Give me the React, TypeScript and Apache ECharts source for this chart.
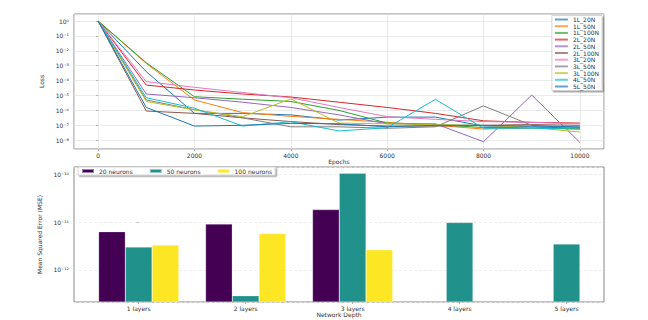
import React, { useEffect, useRef } from "react";
import * as echarts from "echarts";

// ---------- Top chart data (loss vs epochs) ----------
const epochs = [0, 1000, 2000, 3000, 4000, 5000, 6000, 7000, 8000, 9000, 10000];
const lossNames = ["1L_20N", "1L_50N", "1L_100N", "2L_20N", "2L_50N", "2L_100N", "3L_20N", "3L_50N", "3L_100N", "4L_50N", "5L_50N"];
const loss_1L_20N = [1, 3.98e-4, 6.31e-7, 6.31e-7, 5.01e-7, 2.24e-7, 3.55e-7, 3.55e-7, 8.91e-8, 7.94e-8, 6.31e-8];
const loss_1L_50N = [1, 1.41e-3, 5.01e-6, 7.08e-7, 3.98e-7, 2.51e-7, 1.58e-7, 1.0e-7, 5.62e-8, 6.31e-8, 6.31e-8];
const loss_1L_100N = [1, 1.58e-3, 8.3e-6, 5.62e-6, 3.98e-6, 1.0e-6, 1.41e-7, 1.12e-7, 7.08e-8, 7.08e-8, 5.62e-8];
const loss_2L_20N = [1, 5.01e-5, 2.34e-5, 1.26e-5, 7.94e-6, 3.55e-6, 1.58e-6, 6.31e-7, 2.0e-7, 1.58e-7, 1.41e-7];
const loss_2L_50N = [1, 1.26e-5, 7.08e-6, 3.55e-6, 1.58e-6, 5.01e-7, 1.26e-7, 1.26e-7, 7.94e-9, 1.07e-5, 7.08e-9];
const loss_2L_100N = [1, 9.1e-7, 6.31e-7, 3.16e-7, 1.78e-7, 1.12e-7, 8.91e-8, 8.91e-8, 1.0e-7, 1.12e-7, 1.0e-7];
const loss_3L_20N = [1, 8.5e-5, 3.55e-5, 1.58e-5, 7.08e-6, 1.58e-6, 3.8e-7, 2.51e-7, 1.78e-7, 1.58e-7, 1.26e-7];
const loss_3L_50N = [1, 5.01e-6, 1.12e-6, 3.16e-7, 7.94e-8, 7.94e-8, 6.31e-8, 7.94e-8, 2.0e-6, 1.0e-7, 7.08e-8];
const loss_3L_100N = [1, 3.98e-6, 1.07e-6, 3.8e-7, 5.9e-6, 1.41e-7, 1.26e-7, 1.12e-7, 1.0e-7, 7.08e-8, 3.55e-8];
const loss_4L_50N = [1, 7.08e-6, 1.41e-6, 8.91e-8, 1.74e-7, 4.17e-8, 6.92e-8, 5.5e-6, 6.31e-8, 6.31e-8, 5.62e-8];
const loss_5L_50N = [1, 1.58e-6, 8.91e-8, 1.0e-7, 1.35e-7, 1.26e-7, 7.94e-8, 1.0e-7, 1.0e-7, 8.91e-8, 7.94e-8];
const lossSeries = [loss_1L_20N, loss_1L_50N, loss_1L_100N, loss_2L_20N, loss_2L_50N, loss_2L_100N, loss_3L_20N, loss_3L_50N, loss_3L_100N, loss_4L_50N, loss_5L_50N];
const lineColors = ["#1f77b4", "#ff7f0e", "#2ca02c", "#d62728", "#9467bd", "#8c564b", "#e377c2", "#7f7f7f", "#bcbd22", "#17becf", "#1f77b4"];

// ---------- Bottom chart data (MSE vs depth) ----------
const depthLabels = ["1 layers", "2 layers", "3 layers", "4 layers", "5 layers"];
const depthPositions = [0, 1, 2, 3, 4];
const barNames = ["20 neurons", "50 neurons", "100 neurons"];
const mse20N = [6.3e-12, 9.1e-12, 1.82e-11];
const mse50N = [3.0e-12, 2.9e-13, 1.05e-10, 9.8e-12, 3.47e-12];
const mse100N = [3.3e-12, 5.75e-12, 2.63e-12];
const barColors = ["#440154", "#21918c", "#fde725"];

const FONT = "DejaVu Sans";
const SUP: Record<string, string> = { "0": "⁰", "1": "¹", "2": "²", "3": "³", "4": "⁴", "5": "⁵", "6": "⁶", "7": "⁷", "8": "⁸", "9": "⁹", "-": "⁻" };
const pow10Label = (v: number) => {
  const e = Math.round(Math.log10(v));
  return "10" + String(e).split("").map((c) => SUP[c] || c).join("");
};

export default function App() {
  const ref = useRef<HTMLDivElement>(null);
  useEffect(() => {
    if (!ref.current) return;
    const chart = echarts.init(ref.current, undefined, { renderer: "svg" });
    const labelStyle = { fontSize: 6, color: "#333", fontFamily: FONT };
    const lineSeries = lossNames.map((name, k) => ({
      name,
      type: "line",
      xAxisIndex: 0,
      yAxisIndex: 0,
      data: epochs.map((e, i) => [e, lossSeries[k][i]]),
      showSymbol: false,
      symbol: "none",
      lineStyle: { width: 1, color: lineColors[k] },
      itemStyle: { color: lineColors[k] },
      z: 3,
    }));
    const barData = [mse20N, mse50N, mse100N];
    const barSeries = barNames.map((name, k) => ({
      name,
      type: "bar",
      xAxisIndex: 1,
      yAxisIndex: 1,
      data: barData[k].map((v, i) => [depthPositions[i], v]),
      barWidth: 26.75,
      barGap: "0%",
      itemStyle: { color: barColors[k], borderColor: "rgba(255,255,255,0.5)", borderWidth: 0.5 },
    }));
    chart.setOption({
      animation: false,
      textStyle: { fontFamily: FONT },
      grid: [
        { left: 74, right: 44, top: 14, height: 135, show: true, borderColor: "#888", borderWidth: 1 },
        { left: 74, right: 44, top: 167, height: 135, show: true, borderColor: "#888", borderWidth: 1 },
      ],
      legend: [
        {
          data: lossNames,
          orient: "vertical",
          right: 46,
          top: 15.5,
          icon: "rect",
          itemWidth: 13,
          itemHeight: 2,
          itemGap: 0.7,
          padding: [1, 3, 1, 3],
          textStyle: { fontSize: 6, lineHeight: 6, color: "#333", fontFamily: FONT },
          backgroundColor: "#fff",
          borderColor: "#ccc",
          borderWidth: 0.8,
          shadowColor: "rgba(0,0,0,0.35)",
          shadowOffsetX: 1.5,
          shadowOffsetY: 1.5,
          shadowBlur: 0,
          itemStyle: { opacity: 0.7 },
        },
        {
          data: barNames,
          orient: "horizontal",
          left: 78,
          top: 167,
          icon: "rect",
          itemWidth: 12,
          itemHeight: 4,
          itemGap: 16,
          padding: [1, 3, 1, 3],
          textStyle: { fontSize: 6, lineHeight: 6, color: "#333", fontFamily: FONT },
          backgroundColor: "#fff",
          borderColor: "#ccc",
          borderWidth: 0.8,
          shadowColor: "rgba(0,0,0,0.35)",
          shadowOffsetX: 1.5,
          shadowOffsetY: 1.5,
          shadowBlur: 0,
        },
      ],
      xAxis: [
        {
          type: "value",
          gridIndex: 0,
          min: -500,
          max: 10500,
          name: "Epochs",
          nameLocation: "middle",
          nameGap: 8,
          nameTextStyle: { fontSize: 6, color: "#333", fontFamily: FONT },
          axisLine: { show: false },
          axisTick: { show: true, length: 2, lineStyle: { color: "#888", width: 0.6 } },
          axisLabel: { ...labelStyle, margin: 3, showMinLabel: false, showMaxLabel: false, formatter: (v: number) => String(v) },
          splitLine: { show: true, lineStyle: { color: "#e2e2e2", width: 0.7 } },
        },
        {
          type: "value",
          gridIndex: 1,
          min: -0.605,
          max: 4.35,
          name: "Network Depth",
          nameLocation: "middle",
          nameGap: 8,
          nameTextStyle: { fontSize: 6, color: "#333", fontFamily: FONT },
          axisLine: { show: false },
          axisTick: { show: true, length: 2, customValues: depthPositions, lineStyle: { color: "#888", width: 0.6 } },
          axisLabel: {
            ...labelStyle,
            margin: 3,
            customValues: depthPositions,
            formatter: (v: number) => depthLabels[Math.round(v)] ?? "",
          },
          splitLine: { show: false },
        },
      ],
      yAxis: [
        {
          type: "log",
          gridIndex: 0,
          logBase: 10,
          min: 2.57e-9,
          max: 2.95,
          splitNumber: 10,
          name: "Loss",
          nameLocation: "middle",
          nameGap: 21,
          nameTextStyle: { fontSize: 6, color: "#333", fontFamily: FONT },
          axisLine: { show: false },
          axisTick: { show: true, length: 2, lineStyle: { color: "#888", width: 0.6 } },
          axisLabel: { ...labelStyle, margin: 5, showMinLabel: false, showMaxLabel: false, formatter: pow10Label },
          splitLine: { show: true, lineStyle: { color: "#e2e2e2", width: 0.7 } },
        },
        {
          type: "log",
          gridIndex: 1,
          logBase: 10,
          min: 2.14e-13,
          max: 1.41e-10,
          startValue: 2.14e-13,
          splitNumber: 5,
          name: "Mean Squared Error (MSE)",
          nameLocation: "middle",
          nameGap: 23,
          nameTextStyle: { fontSize: 6, color: "#333", fontFamily: FONT },
          axisLine: { show: false },
          axisTick: { show: true, length: 2, lineStyle: { color: "#888", width: 0.6 } },
          axisLabel: { ...labelStyle, margin: 5, showMinLabel: false, showMaxLabel: false, formatter: pow10Label },
          splitLine: { show: true, lineStyle: { color: "#e6e6e6", width: 0.7, type: [3, 2] } },
        },
      ],
      series: [...lineSeries, ...barSeries],
    });
    return () => chart.dispose();
  }, []);
  return <div ref={ref} style={{ position: "fixed", left: 0, top: 0, width: 648, height: 320, background: "#fff" }} />;
}
